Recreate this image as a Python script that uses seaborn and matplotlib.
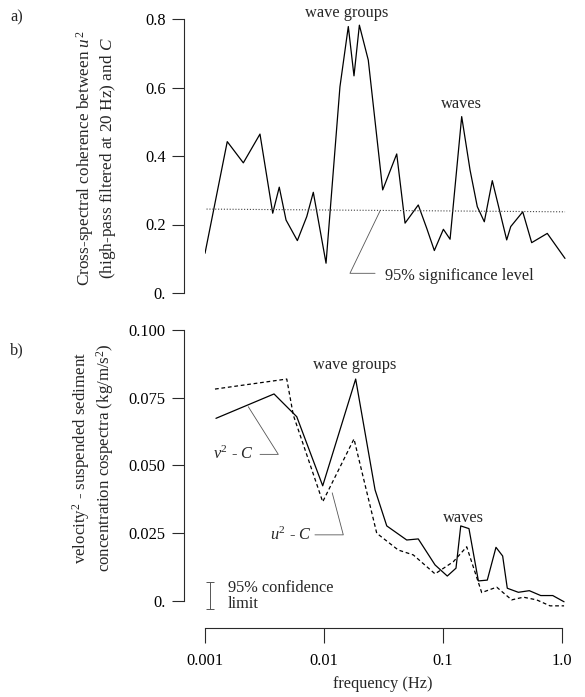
import numpy as np
import pandas as pd
import matplotlib
matplotlib.use("Agg")
import matplotlib.pyplot as plt
import seaborn as sns
from matplotlib.ticker import NullLocator, FixedLocator

# ---------------- data ----------------
# panel a) coherence
coh_freq = [0.00100, 0.001538, 0.002099, 0.002897, 0.003707, 0.004207, 0.004797,
            0.005970, 0.007161, 0.008128, 0.01040, 0.01361, 0.01600, 0.01786,
            0.01982, 0.02355, 0.03112, 0.04083, 0.04797, 0.06194, 0.07295,
            0.08453, 0.1007, 0.1146, 0.1435, 0.1687, 0.1941, 0.2223, 0.2594,
            0.3428, 0.3707, 0.4677, 0.5559, 0.7516, 1.059]
coh_val = [0.116, 0.442, 0.380, 0.464, 0.233, 0.309, 0.213, 0.153, 0.223, 0.294,
           0.087, 0.602, 0.778, 0.634, 0.782, 0.680, 0.301, 0.406, 0.204, 0.257,
           0.189, 0.124, 0.186, 0.157, 0.515, 0.359, 0.252, 0.208, 0.328, 0.155,
           0.194, 0.237, 0.147, 0.174, 0.101]
sig_freq = [0.00103, 1.06]
sig_level = [0.245, 0.237]

# panel b) cospectra
v2c_freq = [0.001236, 0.003802, 0.005902, 0.009750, 0.01845, 0.02685, 0.03367,
            0.04955, 0.06194, 0.08570, 0.1086, 0.1285, 0.1409, 0.1652, 0.1982,
            0.2355, 0.2786, 0.3170, 0.3467, 0.4295, 0.5309, 0.6622, 0.8356, 1.040]
v2c_val = [0.0674, 0.0764, 0.0680, 0.0425, 0.0819, 0.0410, 0.0277, 0.0225, 0.0229,
           0.0133, 0.0092, 0.0121, 0.0277, 0.0267, 0.0074, 0.0077, 0.0198, 0.0166,
           0.0047, 0.0032, 0.0038, 0.0020, 0.0020, -0.0003]
u2c_freq = [0.001213, 0.004864, 0.005521, 0.009750, 0.01786, 0.02773, 0.04207,
            0.05623, 0.08570, 0.1222, 0.1581, 0.2113, 0.2825, 0.3776, 0.4732,
            0.6124, 0.7925, 1.040]
u2c_val = [0.0782, 0.0819, 0.0686, 0.0366, 0.0598, 0.0250, 0.0188, 0.0170, 0.0100,
           0.0145, 0.0200, 0.0031, 0.0051, 0.0004, 0.0014, 0.0004, -0.0018, -0.0018]

ya_ticks = [0.0, 0.2, 0.4, 0.6, 0.8]
ya_labels = ["0.", "0.2", "0.4", "0.6", "0.8"]
yb_ticks = [0.0, 0.025, 0.05, 0.075, 0.1]
yb_labels = ["0.", "0.025", "0.050", "0.075", "0.100"]
x_ticks = [0.001, 0.01, 0.1, 1.0]
x_labels = ["0.001", "0.01", "0.1", "1.0"]

# ---------------- style ----------------
sns.set_theme(style="ticks")
plt.rcParams["font.family"] = ["Liberation Serif", "DejaVu Serif"]
plt.rcParams["mathtext.fontset"] = "custom"
plt.rcParams["mathtext.rm"] = "Liberation Serif"
plt.rcParams["mathtext.it"] = "Liberation Serif:italic"
plt.rcParams["mathtext.bf"] = "Liberation Serif:bold"
FS = 11.8
AX_COL = "#2a2a2a"

W, H = 585, 697
fig = plt.figure(figsize=(W / 100, H / 100), dpi=100)


def rect(x0, x1, y0, y1):
    return [x0 / W, 1 - y1 / H, (x1 - x0) / W, (y1 - y0) / H]


XLIM = (1e-3, 10 ** 0.035)
axA = fig.add_axes(rect(205, 566.2, 19, 293))
axB = fig.add_axes(rect(205, 566.2, 330, 609.1))

# ---------------- panel a ----------------
dfa = pd.DataFrame({"freq": coh_freq, "coh": coh_val})
sns.lineplot(data=dfa, x="freq", y="coh", ax=axA, color="black", lw=0.9,
             estimator=None, sort=False)
dfs = pd.DataFrame({"freq": sig_freq, "lvl": sig_level})
sns.lineplot(data=dfs, x="freq", y="lvl", ax=axA, color="#444444", lw=0.8,
             linestyle=(0, (1, 1.6)), estimator=None)
axA.set_xscale("log")
axA.set_xlim(*XLIM)
axA.set_ylim(0, 0.8)
for s in ["top", "right", "bottom"]:
    axA.spines[s].set_visible(False)
axA.spines["left"].set_position(("outward", 15))
axA.spines["left"].set_bounds(0, 0.8)
axA.set_yticks(ya_ticks)
axA.set_yticklabels(ya_labels)
axA.set_xticks([])
axA.xaxis.set_minor_locator(NullLocator())
axA.set_xlabel("")
axA.set_ylabel("")

axA.text(0.01552, 0.817, "wave groups", ha="center", va="center", fontsize=FS, clip_on=False)
axA.text(0.1435, 0.552, "waves", ha="center", va="center", fontsize=FS)
axA.plot([0.0296, 0.01652, 0.02685], [0.240, 0.0575, 0.0575], color="#555555", lw=0.6)
axA.text(0.0326, 0.050, "95% significance level", ha="left", va="center", fontsize=FS)

# ---------------- panel b ----------------
dfv = pd.DataFrame({"freq": v2c_freq, "cosp": v2c_val})
dfu = pd.DataFrame({"freq": u2c_freq, "cosp": u2c_val})
sns.lineplot(data=dfv, x="freq", y="cosp", ax=axB, color="black", lw=0.9,
             estimator=None, sort=False)
sns.lineplot(data=dfu, x="freq", y="cosp", ax=axB, color="black", lw=0.9,
             linestyle=(0, (3.0, 2.2)), estimator=None, sort=False, clip_on=False)
axB.set_xscale("log")
axB.set_xlim(*XLIM)
axB.set_ylim(-0.003, 0.1)
for s in ["top", "right"]:
    axB.spines[s].set_visible(False)
axB.spines["left"].set_position(("outward", 15))
axB.spines["left"].set_bounds(0, 0.1)
axB.spines["bottom"].set_position(("outward", 13.6))
axB.spines["bottom"].set_bounds(1e-3, 1.0)
axB.set_yticks(yb_ticks)
axB.set_yticklabels(yb_labels)
axB.xaxis.set_major_locator(FixedLocator(x_ticks))
axB.set_xticklabels(x_labels)
axB.xaxis.set_minor_locator(NullLocator())
axB.set_ylabel("")
axB.set_xlabel("frequency (Hz)", fontsize=FS)
axB.xaxis.set_label_coords((383 - 205) / 361.2, (609.1 - 676) / 279.1)

axB.text(0.01824, 0.0871, "wave groups", ha="center", va="center", fontsize=FS)
axB.text(0.150, 0.0306, "waves", ha="center", va="center", fontsize=FS)
# v^2 - C label with leader
axB.plot([0.00231, 0.00413, 0.0029], [0.0717, 0.0541, 0.0541], color="#555555", lw=0.6)
axB.text(0.00258, 0.0541, r"$v^2$ - $C$", ha="right", va="center", fontsize=FS)
# u^2 - C label with leader
axB.plot([0.01172, 0.01452, 0.00839], [0.0399, 0.0244, 0.0244], color="#555555", lw=0.6)
axB.text(0.00793, 0.0244, r"$u^2$ - $C$", ha="right", va="center", fontsize=FS)
# 95% confidence limit
axB.errorbar([0.0011], [0.00203], yerr=[0.00509], fmt="none", ecolor="#555555",
             elinewidth=0.7, capsize=3, capthick=0.7, clip_on=False)
axB.text(0.00156, 0.00185, "95% confidence\nlimit", ha="left", va="center",
         fontsize=FS, linespacing=1.05)

for ax in (axA, axB):
    ax.tick_params(axis="y", direction="out", length=9, width=0.8, pad=4.4,
                   labelsize=FS, color=AX_COL, labelcolor="black")
    ax.spines["left"].set_color(AX_COL)
    ax.spines["left"].set_linewidth(0.8)
axB.tick_params(axis="x", direction="out", length=10.5, width=0.8, pad=7.5,
                labelsize=FS, color=AX_COL, labelcolor="black")
axB.spines["bottom"].set_color(AX_COL)
axB.spines["bottom"].set_linewidth(0.8)

# y labels
fig.text(96 / W, 1 - 158 / H,
         "Cross-spectral coherence between $u^2$\n(high-pass filtered at 20 Hz) and $C$",
         rotation=90, ha="center", va="center", fontsize=12.4, multialignment="center",
         linespacing=1.1)
fig.text(93 / W, 1 - 458 / H,
         "velocity$^2$ - suspended sediment\nconcentration cospectra (kg/m/s$^2$)",
         rotation=90, ha="center", va="center", fontsize=12.2, multialignment="center",
         linespacing=1.1)

fig.text(17 / W, 1 - 17 / H, "a)", ha="center", va="center", fontsize=FS)
fig.text(17 / W, 1 - 350 / H, "b)", ha="center", va="center", fontsize=FS)

fig.savefig("out.png", dpi=100)
